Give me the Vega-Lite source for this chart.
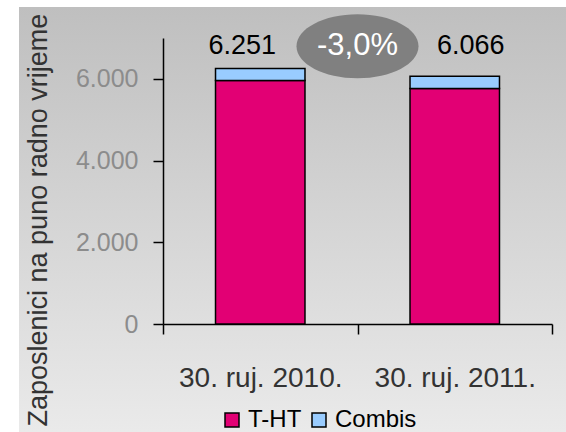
{
  "$schema": "https://vega.github.io/schema/vega-lite/v6.json",
  "width": 547,
  "height": 425,
  "autosize": "none",
  "padding": {"left": 19, "top": 7, "right": 0, "bottom": 0},
  "background": "white",
  "config": {
    "view": {
      "stroke": null,
      "fill": {
        "gradient": "linear", "x1": 0, "y1": 0, "x2": 0, "y2": 1,
        "stops": [{"offset": 0, "color": "#bfbfbf"}, {"offset": 1, "color": "#eaeaea"}]
      }
    }
  },
  "datasets": {
    "emp": [
      {"date": "30. ruj. 2010.", "company": "T-HT", "value": 5960},
      {"date": "30. ruj. 2010.", "company": "Combis", "value": 291},
      {"date": "30. ruj. 2011.", "company": "T-HT", "value": 5765},
      {"date": "30. ruj. 2011.", "company": "Combis", "value": 301}
    ],
    "totals": [
      {"date": "30. ruj. 2010.", "total": 6251, "label": "6.251"},
      {"date": "30. ruj. 2011.", "total": 6066, "label": "6.066"}
    ],
    "change": [
      {"date": "30. ruj. 2010.", "label": "-3,0%"}
    ]
  },
  "layer": [
    {
      "data": {"name": "emp"},
      "mark": {"type": "bar", "stroke": "black", "strokeWidth": 1.5, "width": {"band": 0.46}},
      "encoding": {
        "x": {
          "field": "date", "type": "nominal", "sort": null,
          "scale": {"range": [144, 533], "paddingInner": 0, "paddingOuter": 0},
          "axis": {
            "orient": "bottom", "offset": -108, "title": null, "labelAngle": 0,
            "tickBand": "extent", "domainColor": "black", "domainWidth": 1.5,
            "tickColor": "black", "tickWidth": 1.5, "tickSize": 10, "labelLimit": 0,
            "labelFont": "Liberation Sans, Arial, sans-serif",
            "labelFontSize": 28, "labelColor": "#333333", "labelBaseline": "middle", "labelPadding": 44
          }
        },
        "y": {
          "field": "value", "type": "quantitative", "stack": "zero",
          "scale": {"domain": [0, 7000], "range": [317, 31], "nice": false},
          "axis": {
            "orient": "left", "offset": -144, "values": [0, 2000, 4000, 6000],
            "labelExpr": "replace(format(datum.value, ','), ',', '.')",
            "grid": false, "domainColor": "black", "domainWidth": 1.5,
            "tickColor": "black", "tickWidth": 1.5, "tickSize": 10,
            "labelFont": "Liberation Sans, Arial, sans-serif",
            "labelFontSize": 25, "labelColor": "#8c8c8c", "labelPadding": 15,
            "title": "Zaposlenici na puno radno vrijeme",
            "titleFont": "Liberation Sans, Arial, sans-serif", "titleFontSize": 27,
            "titleFontWeight": "normal", "titleColor": "#333333",
            "titleAngle": -90, "titleAlign": "left", "titleBaseline": "middle",
            "titleX": -125, "titleY": 419
          }
        },
        "color": {
          "field": "company", "type": "nominal",
          "scale": {"domain": ["T-HT", "Combis"], "range": ["#E20074", "#99CCFF"]},
          "legend": {
            "orient": "none", "legendX": 201, "legendY": 401, "direction": "horizontal",
            "title": null, "symbolType": "square", "symbolSize": 196,
            "symbolStrokeColor": "black", "symbolStrokeWidth": 1.5, "symbolOpacity": 1,
            "labelFont": "Liberation Sans, Arial, sans-serif", "labelFontSize": 24,
            "labelColor": "black", "columnPadding": 5, "labelOffset": 4
          }
        },
        "order": {"field": "company", "sort": "descending"}
      }
    },
    {
      "data": {"name": "totals"},
      "transform": [{"filter": "datum.date === '30. ruj. 2010.'"}],
      "mark": {"type": "text", "font": "Liberation Sans, Arial, sans-serif", "fontSize": 27, "color": "black", "baseline": "middle", "dx": -18},
      "encoding": {
        "x": {"field": "date", "type": "nominal"},
        "y": {"datum": 6800},
        "text": {"field": "label"}
      }
    },
    {
      "data": {"name": "totals"},
      "transform": [{"filter": "datum.date === '30. ruj. 2011.'"}],
      "mark": {"type": "text", "font": "Liberation Sans, Arial, sans-serif", "fontSize": 27, "color": "black", "baseline": "middle", "dx": 16},
      "encoding": {
        "x": {"field": "date", "type": "nominal"},
        "y": {"datum": 6800},
        "text": {"field": "label"}
      }
    },
    {
      "data": {"name": "change"},
      "mark": {
        "type": "point", "filled": true, "opacity": 1, "color": "#808080", "strokeWidth": 0,
        "size": 14884,
        "shape": "M-1,0C-1,-0.29,-0.5523,-0.525,0,-0.525C0.5523,-0.525,1,-0.29,1,0C1,0.29,0.5523,0.525,0,0.525C-0.5523,0.525,-1,0.29,-1,0Z"
      },
      "encoding": {
        "x": {"field": "date", "type": "nominal", "bandPosition": 1},
        "y": {"datum": 6800}
      }
    },
    {
      "data": {"name": "change"},
      "mark": {"type": "text", "font": "Liberation Sans, Arial, sans-serif", "fontSize": 31, "color": "white", "baseline": "middle"},
      "encoding": {
        "x": {"field": "date", "type": "nominal", "bandPosition": 1},
        "y": {"datum": 6800},
        "text": {"field": "label"}
      }
    }
  ]
}
